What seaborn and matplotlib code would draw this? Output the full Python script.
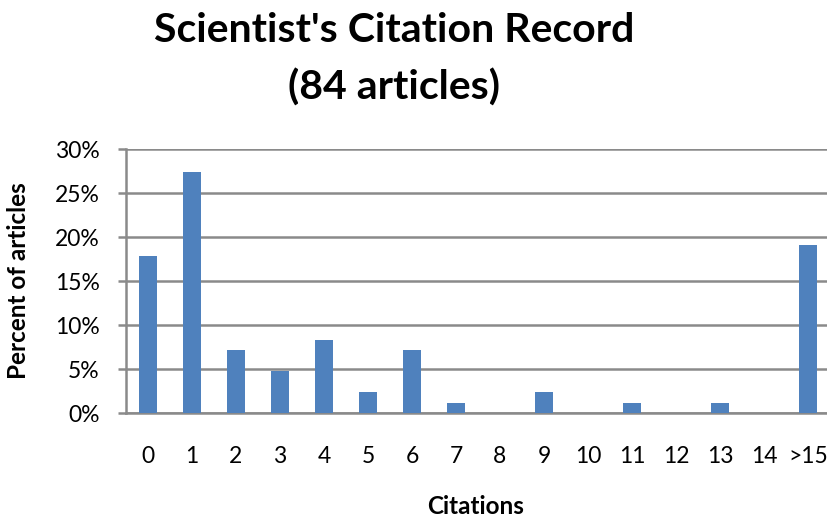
import matplotlib
matplotlib.use("Agg")
import matplotlib.pyplot as plt
import seaborn as sns
import pandas as pd

categories = ["0", "1", "2", "3", "4", "5", "6", "7", "8", "9", "10", "11", "12", "13", "14", ">15"]
percent = [17.86, 27.38, 7.14, 4.76, 8.33, 2.38, 7.14, 1.19, 0, 2.38, 0, 1.19, 0, 1.19, 0, 19.05]
y_ticks = [0, 5, 10, 15, 20, 25, 30]
y_tick_labels = ["0%", "5%", "10%", "15%", "20%", "25%", "30%"]

sns.set_theme(style="white")
plt.rcParams["font.family"] = ["Lato", "DejaVu Sans"]
plt.rcParams["text.color"] = "black"

df = pd.DataFrame({"Citations": categories, "Percent": percent})

W, H = 827, 519
fig = plt.figure(figsize=(W / 100, H / 100), dpi=100)
fig.patch.set_facecolor("white")
ax = fig.add_axes([126 / W, (H - 413) / H, 704 / W, 264 / H])

sns.barplot(data=df, x="Citations", y="Percent", order=categories,
            color="#4F81BD", saturation=1, width=0.39, ax=ax, zorder=3,
            linewidth=0, edgecolor="none")

grid_c = "#8A8A8A"
ax.set_ylim(0, 30)
ax.set_xlim(-0.5, len(categories) - 0.5)
ax.set_yticks(y_ticks)
ax.set_yticklabels(y_tick_labels, fontsize=16.5, color="black")
ax.yaxis.grid(True, color=grid_c, linewidth=1.8, zorder=0)
ax.set_axisbelow(True)
ax.tick_params(axis="y", which="major", left=True, length=6, width=1.8,
               color=grid_c, pad=13)
ax.tick_params(axis="x", which="major", bottom=False, length=0, pad=24,
               labelsize=16.5, labelcolor="black")
for s in ["top", "right"]:
    ax.spines[s].set_visible(False)
for s in ["left", "bottom"]:
    ax.spines[s].set_color(grid_c)
    ax.spines[s].set_linewidth(1.8)

ax.set_xlabel("")
ax.set_ylabel("")
fig.text(476 / W, 1 - 507 / H, "Citations", ha="center", va="center",
         fontsize=17.5, fontweight="bold", color="black")
fig.text(19 / W, 1 - 281 / H, "Percent of articles", ha="center", va="center",
         rotation=90, fontsize=17.5, fontweight="bold", color="black")

fig.text(394 / W, 1 - 30 / H, "Scientist's Citation Record", ha="center",
         va="center", fontsize=29.5, fontweight="bold", color="black")
fig.text(394 / W, 1 - 88 / H, "(84 articles)", ha="center",
         va="center", fontsize=29.5, fontweight="bold", color="black")

fig.savefig("out.png", dpi=100, facecolor="white")
